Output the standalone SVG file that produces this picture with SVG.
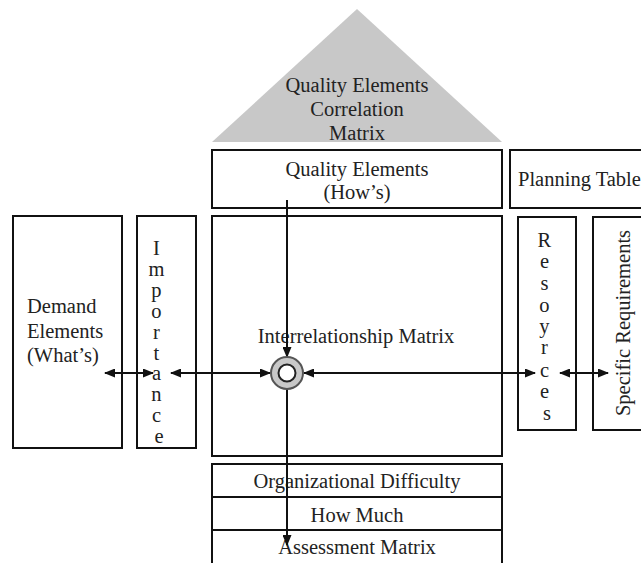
<svg xmlns="http://www.w3.org/2000/svg" width="641" height="563" viewBox="0 0 641 563">
  <style>
    .box { fill: #ffffff; stroke: #111111; stroke-width: 2; }
    .lbl { font-family: "Liberation Serif", "Times New Roman", serif; font-size: 20.5px; fill: #222222; }
    .mid { text-anchor: middle; }
    .wire { fill: none; stroke: #111111; stroke-width: 2; }
  </style>
  <defs>
    <marker id="arrow" markerWidth="11" markerHeight="9" refX="10" refY="4.5" orient="auto-start-reverse" markerUnits="userSpaceOnUse">
      <path d="M0,0 L11,4.5 L0,9 z" fill="#111111"/>
    </marker>
  </defs>

  <rect width="641" height="563" fill="#ffffff"/>

  <!-- roof: correlation matrix -->
  <g id="correlation">
    <polygon points="357,9 502,142 212,142" fill="#c8c8c8"/>
    <text class="lbl mid" x="357" y="92">Quality Elements</text>
    <text class="lbl mid" x="357" y="116">Correlation</text>
    <text class="lbl mid" x="357" y="140">Matrix</text>
  </g>

  <g id="quality-elements">
    <rect class="box" x="212" y="150" width="290" height="58"/>
    <text class="lbl mid" x="357" y="176">Quality Elements</text>
    <text class="lbl mid" x="357" y="199">(How’s)</text>
  </g>

  <g id="planning-table">
    <rect class="box" x="510" y="150" width="140" height="58"/>
    <text class="lbl" x="518" y="186">Planning Table</text>
  </g>

  <g id="demand-elements">
    <rect class="box" x="13" y="216" width="109" height="232"/>
    <text class="lbl" x="27" y="313">Demand</text>
    <text class="lbl" x="27" y="338">Elements</text>
    <text class="lbl" x="27" y="362">(What’s)</text>
  </g>

  <g id="importance">
    <rect class="box" x="137" y="216" width="59" height="232"/>
    <text class="lbl mid" x="159">
      <tspan x="159" y="255">I</tspan>
      <tspan x="159" y="276">m</tspan>
      <tspan x="159" y="297">p</tspan>
      <tspan x="159" y="318">o</tspan>
      <tspan x="159" y="339">r</tspan>
      <tspan x="159" y="360">t</tspan>
      <tspan x="159" y="380">a</tspan>
      <tspan x="159" y="401">n</tspan>
      <tspan x="159" y="422">c</tspan>
      <tspan x="159" y="443">e</tspan>
    </text>
  </g>

  <g id="interrelationship">
    <rect class="box" x="212" y="216" width="290" height="240"/>
    <text class="lbl mid" x="356" y="343">Interrelationship Matrix</text>
  </g>

  <g id="resources">
    <rect class="box" x="518" y="217" width="58" height="213"/>
    <text class="lbl mid" x="547">
      <tspan x="547" y="247">R</tspan>
      <tspan x="547" y="268">e</tspan>
      <tspan x="547" y="290">s</tspan>
      <tspan x="547" y="312">o</tspan>
      <tspan x="547" y="333">y</tspan>
      <tspan x="547" y="354">r</tspan>
      <tspan x="547" y="377">c</tspan>
      <tspan x="547" y="398">e</tspan>
      <tspan x="547" y="420">s</tspan>
    </text>
  </g>

  <g id="specific-requirements">
    <rect class="box" x="593" y="217" width="60" height="213"/>
    <text class="lbl mid" transform="translate(630,323) rotate(-90)">Specific Requirements</text>
  </g>

  <g id="organizational-difficulty">
    <rect class="box" x="212" y="464" width="290" height="33"/>
    <text class="lbl mid" x="357" y="488">Organizational Difficulty</text>
  </g>

  <g id="how-much">
    <rect class="box" x="212" y="497" width="290" height="33"/>
    <text class="lbl mid" x="357" y="522">How Much</text>
  </g>

  <g id="assessment-matrix">
    <rect class="box" x="212" y="530" width="290" height="40"/>
    <text class="lbl mid" x="357" y="554">Assessment Matrix</text>
  </g>

  <!-- connectors -->
  <g id="connectors">
    <line class="wire" x1="287" y1="200" x2="287" y2="357" marker-end="url(#arrow)"/>
    <line class="wire" x1="287" y1="389" x2="287" y2="545" marker-end="url(#arrow)"/>
    <line class="wire" x1="105" y1="373" x2="153" y2="373" marker-start="url(#arrow)" marker-end="url(#arrow)"/>
    <line class="wire" x1="171" y1="373" x2="270" y2="373" marker-start="url(#arrow)" marker-end="url(#arrow)"/>
    <line class="wire" x1="304" y1="373" x2="535" y2="373" marker-start="url(#arrow)" marker-end="url(#arrow)"/>
    <line class="wire" x1="560" y1="373" x2="608" y2="373" marker-start="url(#arrow)" marker-end="url(#arrow)"/>
  </g>

  <!-- junction symbol -->
  <g id="junction">
    <circle cx="287" cy="373" r="16" fill="#c8c8c8" stroke="#555555" stroke-width="2"/>
    <circle cx="287" cy="373" r="8.5" fill="#ffffff" stroke="#222222" stroke-width="2"/>
  </g>
</svg>
